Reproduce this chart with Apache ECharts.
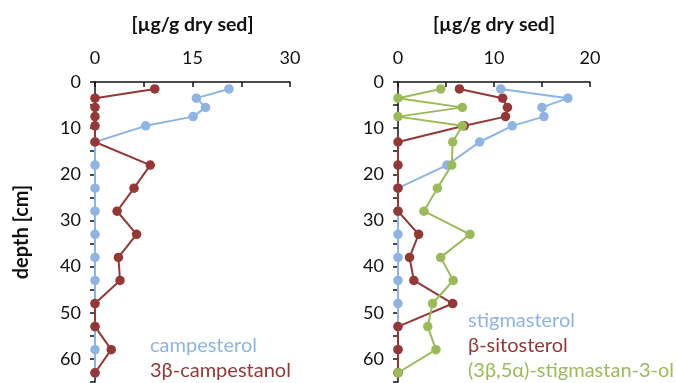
<!DOCTYPE html>
<html>
<head>
<meta charset="utf-8">
<script src="https://cdn.jsdelivr.net/npm/echarts@6/dist/echarts.min.js"></script>
<style>
  html, body { margin: 0; padding: 0; background: #fff; }
  #chart { width: 676px; height: 383px; }
</style>
</head>
<body>
<div id="chart"></div>
<script>
// Sediment core depths (cm)
const depth = [1.5, 3.5, 5.5, 7.5, 9.5, 13, 18, 23, 28, 33, 38, 43, 48, 53, 58, 63];

// Left panel concentrations [µg/g dry sed]
const campesterol   = [20.6, 15.6, 17.0, 15.1, 7.8, 0, 0, 0, 0, 0, 0, 0, 0, 0, 0, 0];
const campestanol   = [9.2, 0, 0, 0, 0, 0, 8.5, 6.0, 3.4, 6.4, 3.6, 3.85, 0, 0, 2.5, 0];

// Right panel concentrations [µg/g dry sed]
const stigmasterol  = [10.7, 17.7, 15.0, 15.2, 11.9, 8.5, 5.1, 0, 0, 0, 0, 0, 0, 0, 0, 0];
const sitosterol    = [6.4, 10.9, 11.4, 11.2, 6.9, 0, 0, 0, 0, 2.15, 1.2, 1.65, 5.7, 0, 0, 0];
const stigmastanol  = [4.45, 0, 6.7, 0, 6.7, 5.7, 5.6, 4.1, 2.7, 7.5, 4.45, 5.75, 3.6, 3.1, 3.95, 0];

const leftTicks  = [0, 15, 30];
const rightTicks = [0, 10, 20];
const depthTicks = [0, 10, 20, 30, 40, 50, 60];

const BLUE = '#8db4e2', RED = '#953735', GREEN = '#9bbb59';
const FONT = 'Lato, "Open Sans", sans-serif';

const pairs = (vals) => vals.map((v, i) => [v, depth[i]]);

function xAxisCfg(idx, max, step, labels) {
  return {
    type: 'value', gridIndex: idx, position: 'top', min: 0, max: max, interval: step,
    name: '[µg/g dry sed]', nameLocation: 'middle', nameGap: 47,
    nameTextStyle: { fontFamily: FONT, fontWeight: 'bold', fontSize: 19.5, color: '#111' },
    axisLine: { show: true, lineStyle: { color: '#111', width: 1.5 } },
    axisTick: { show: true, inside: true, length: 5, lineStyle: { color: '#111', width: 1.5 } },
    axisLabel: {
      fontFamily: FONT, fontSize: 18, color: '#111', margin: 15,
      formatter: (v) => labels.includes(v) ? String(v) : ''
    },
    splitLine: { show: false }
  };
}

function yAxisCfg(idx, withName) {
  return {
    type: 'value', gridIndex: idx, inverse: true, min: 0, max: 65, interval: 5,
    name: withName ? 'depth [cm]' : '', nameLocation: 'middle', nameGap: 63, nameRotate: 90,
    nameTextStyle: { fontFamily: FONT, fontWeight: 'bold', fontSize: 20, color: '#111' },
    axisLine: { show: true, lineStyle: { color: '#111', width: 1.5 } },
    axisTick: { show: true, inside: false, length: 5, lineStyle: { color: '#111', width: 1.5 } },
    axisLabel: {
      fontFamily: FONT, fontSize: 18, color: '#111', margin: 14,
      formatter: (v) => depthTicks.includes(v) ? String(v) : ''
    },
    splitLine: { show: false }
  };
}

function lineSeries(name, vals, color, gi) {
  return {
    name: name, type: 'line', xAxisIndex: gi, yAxisIndex: gi,
    data: pairs(vals), symbol: 'circle', symbolSize: 9.5, showSymbol: true,
    lineStyle: { color: color, width: 2 }, itemStyle: { color: color },
    animation: false, silent: true
  };
}

function legendText(x, y, text, color) {
  return {
    type: 'text', left: x, top: y,
    style: { text: text, fill: color, font: '20px ' + FONT }
  };
}

const chart = echarts.init(document.getElementById('chart'), null, { renderer: 'canvas' });
chart.setOption({
  backgroundColor: '#fff',
  animation: false,
  grid: [
    { left: 95, top: 82, width: 195, height: 300 },
    { left: 398, top: 82, width: 192, height: 300 }
  ],
  xAxis: [xAxisCfg(0, 30, 7.5, leftTicks), xAxisCfg(1, 20, 5, rightTicks)],
  yAxis: [yAxisCfg(0, true), yAxisCfg(1, false)],
  series: [
    lineSeries('campesterol', campesterol, BLUE, 0),
    lineSeries('3β-campestanol', campestanol, RED, 0),
    lineSeries('stigmasterol', stigmasterol, BLUE, 1),
    lineSeries('β-sitosterol', sitosterol, RED, 1),
    lineSeries('(3β,5α)-stigmastan-3-ol', stigmastanol, GREEN, 1)
  ],
  graphic: [
    legendText(150, 336, 'campesterol', BLUE),
    legendText(150, 361, '3β-campestanol', RED),
    legendText(468, 311, 'stigmasterol', BLUE),
    legendText(468, 336, 'β-sitosterol', RED),
    legendText(468, 361, '(3β,5α)-stigmastan-3-ol', GREEN)
  ]
});
</script>
</body>
</html>
